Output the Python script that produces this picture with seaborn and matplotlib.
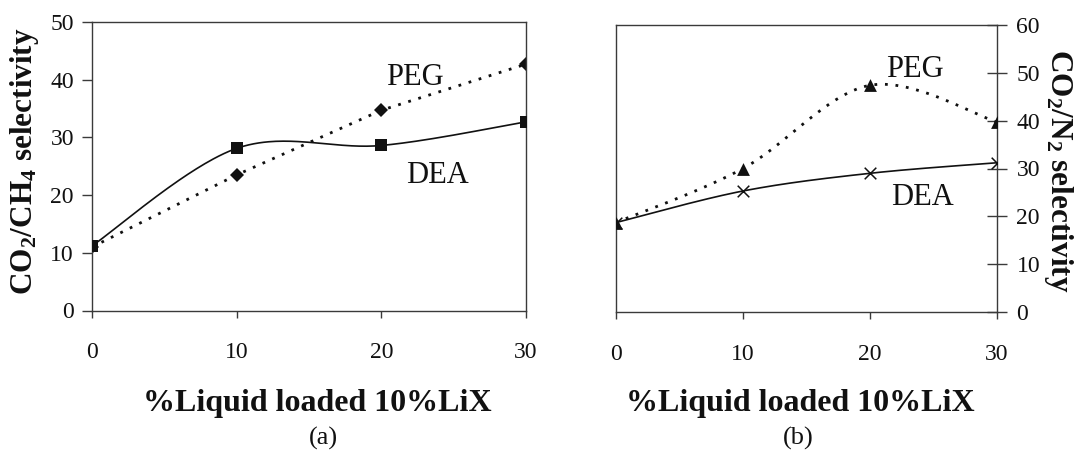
import matplotlib
matplotlib.use("Agg")
import numpy as np
import pandas as pd
import matplotlib.pyplot as plt
import seaborn as sns

# Liquid loading (%) on 10% LiX
loading = [0, 10, 20, 30]

# (a) CO2/CH4 selectivity
ch4_dea = [11.2, 28.1, 28.6, 32.7]
ch4_peg = [11.0, 23.5, 34.7, 42.7]

# (b) CO2/N2 selectivity
n2_dea = [18.7, 25.3, 29.0, 31.2]
n2_peg = [18.7, 30.0, 47.4, 39.7]

x_ticks = [0, 10, 20, 30]
ya_ticks = [0, 10, 20, 30, 40, 50]
yb_ticks = [0, 10, 20, 30, 40, 50, 60]

xlabel = "%Liquid loaded 10%LiX"
ylabel_a = r"CO$_\mathbf{2}$/CH$_\mathbf{4}$ selectivity"
ylabel_b = r"CO$_\mathbf{2}$/N$_\mathbf{2}$ selectivity"

sns.set_theme(style="white")
plt.rcParams["font.family"] = ["Liberation Serif", "DejaVu Serif"]
plt.rcParams["mathtext.fontset"] = "custom"
plt.rcParams["mathtext.rm"] = "Liberation Serif:bold"
plt.rcParams["mathtext.bf"] = "Liberation Serif:bold"
plt.rcParams["mathtext.it"] = "Liberation Serif:bold"

W, H = 1075, 454
INK = "#111111"
SPINE = "#3a3a3a"


def smooth_curve(x, y, n=60):
    """Piecewise cubic Bezier through the points (spreadsheet-style smoothed line)."""
    p = np.column_stack([x, y]).astype(float)
    out = []
    for i in range(len(p) - 1):
        p0, p3 = p[i], p[i + 1]
        prev = p[i - 1] if i > 0 else p[i]
        nxt = p[i + 2] if i + 2 < len(p) else p[i + 1]
        c1 = p0 + (p3 - prev) / 6.0
        c2 = p3 - (nxt - p0) / 6.0
        t = np.linspace(0, 1, n)[:, None]
        seg = ((1 - t) ** 3) * p0 + 3 * ((1 - t) ** 2) * t * c1 + 3 * (1 - t) * t ** 2 * c2 + t ** 3 * p3
        out.append(seg if i == 0 else seg[1:])
    seg = np.vstack(out)
    return pd.DataFrame({"x": seg[:, 0], "y": seg[:, 1]})


def px_rect(left, top, right, bottom):
    return [left / W, 1 - bottom / H, (right - left) / W, (bottom - top) / H]


fig = plt.figure(figsize=(W / 100, H / 100), dpi=100)
fig.patch.set_facecolor("white")

ax_a = fig.add_axes(px_rect(92, 22, 526, 310.5))
ax_b = fig.add_axes(px_rect(616, 25, 997, 312))

dotted = (0, (1.0, 2.8))
TICK_FS = 17

# ---- panel (a) ----
df_a_peg = pd.DataFrame({"x": loading, "y": ch4_peg})
df_a_dea = pd.DataFrame({"x": loading, "y": ch4_dea})
sns.lineplot(data=df_a_peg, x="x", y="y", ax=ax_a, color=INK, lw=2.0,
             linestyle=dotted, marker="D", markersize=7, markeredgewidth=0)
sns.lineplot(data=smooth_curve(loading, ch4_dea), x="x", y="y", ax=ax_a,
             color=INK, lw=1.2, sort=False)
sns.scatterplot(data=df_a_dea, x="x", y="y", ax=ax_a, color=INK, marker="s",
                s=70, linewidth=0, zorder=5)

ax_a.set_xlim(0, 30)
ax_a.set_ylim(0, 50)
ax_a.set_xticks(x_ticks)
ax_a.set_yticks(ya_ticks)
ax_a.tick_params(axis="x", direction="out", length=5, width=1, pad=18,
                 labelsize=TICK_FS, color=SPINE, bottom=True)
ax_a.tick_params(axis="y", direction="out", length=7, width=1, pad=6,
                 labelsize=TICK_FS, color=SPINE, left=True)
ax_a.set_xlabel("")
ax_a.set_ylabel("")
ax_a.text(22.3, 39.1, "PEG", fontsize=22, ha="center", va="baseline", color=INK)
ax_a.text(23.9, 22.1, "DEA", fontsize=22, ha="center", va="baseline", color=INK)

# ---- panel (b) ----
df_b_dea = pd.DataFrame({"x": loading, "y": n2_dea})
df_b_peg = pd.DataFrame({"x": loading, "y": n2_peg})
sns.lineplot(data=smooth_curve(loading, n2_peg), x="x", y="y", ax=ax_b,
             color=INK, lw=2.0, linestyle=dotted, sort=False)
sns.lineplot(data=smooth_curve(loading, n2_dea), x="x", y="y", ax=ax_b,
             color=INK, lw=1.2, sort=False)
sns.scatterplot(data=df_b_peg, x="x", y="y", ax=ax_b, color=INK, marker="^",
                s=85, linewidth=0, zorder=5)
sns.scatterplot(data=df_b_dea, x="x", y="y", ax=ax_b, color=INK, marker="x",
                s=70, linewidth=1.1, zorder=5)

ax_b.set_xlim(0, 30)
ax_b.set_ylim(0, 60)
ax_b.set_xticks(x_ticks)
ax_b.set_yticks(yb_ticks)
ax_b.yaxis.tick_right()
ax_b.tick_params(axis="x", direction="out", length=5, width=1, pad=18,
                 labelsize=TICK_FS, color=SPINE, bottom=True)
ax_b.tick_params(axis="y", direction="inout", length=14, width=1, pad=7,
                 labelsize=TICK_FS, color=SPINE, right=True, left=False)
ax_b.set_xlabel("")
ax_b.set_ylabel("")
ax_b.text(23.5, 49.1, "PEG", fontsize=22, ha="center", va="baseline", color=INK)
ax_b.text(24.1, 22.4, "DEA", fontsize=22, ha="center", va="baseline", color=INK)

for ax in (ax_a, ax_b):
    ax.set_facecolor("white")
    for s in ax.spines.values():
        s.set_visible(True)
        s.set_color(SPINE)
        s.set_linewidth(1.0)
    for lab in ax.get_xticklabels() + ax.get_yticklabels():
        lab.set_color(INK)
    leg = ax.get_legend()
    if leg is not None:
        leg.remove()

# ---- figure texts ----
fig.text(317 / W, 1 - 411 / H, xlabel, fontsize=23, fontweight="bold",
         ha="center", va="baseline", color=INK)
fig.text(800 / W, 1 - 411 / H, xlabel, fontsize=23, fontweight="bold",
         ha="center", va="baseline", color=INK)
fig.text(323 / W, 1 - 438 / H, "(a)", fontsize=19, ha="center", va="center", color=INK)
fig.text(798 / W, 1 - 438 / H, "(b)", fontsize=19, ha="center", va="center", color=INK)
fig.text(25 / W, 1 - 161 / H, ylabel_a, fontsize=22.5, fontweight="bold",
         rotation=90, ha="center", va="center", color=INK)
fig.text(1059 / W, 1 - 171 / H, ylabel_b, fontsize=22.5, fontweight="bold",
         rotation=-90, ha="center", va="center", color=INK)

fig.savefig("out.png", dpi=100, facecolor="white")
